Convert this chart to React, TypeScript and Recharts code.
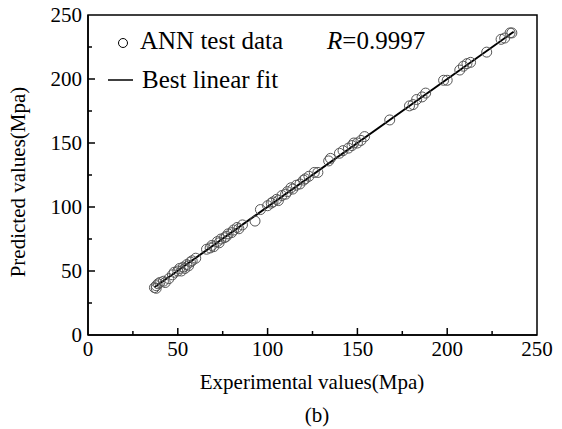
import {
  ComposedChart,
  Scatter,
  Line,
  XAxis,
  YAxis,
  ReferenceArea,
} from "recharts"

const expValues = [
  37, 38, 38, 39, 40, 42, 43, 45, 47, 48, 50, 51, 52, 53, 54, 55, 56, 57, 58, 60,
  66, 68, 69, 70, 72, 73, 74, 76, 77, 78, 80, 81, 83, 84, 86,
  93, 96, 100, 102, 103, 105, 106, 108, 110, 111, 113, 114, 116, 118, 120, 121,
  123, 126, 128, 134, 135, 140, 142, 145, 147, 148, 150, 152, 154,
  168, 179, 181, 183, 186, 188, 198, 200, 207, 209, 211, 213, 222, 230, 232, 235, 236,
]
const predValues = [
  37, 38.5, 36.5, 40, 41, 42, 41, 44, 47, 49, 50, 52, 50, 53, 52, 55, 54, 57, 58, 60,
  67, 68, 70, 69, 73, 72, 75, 76, 77, 79, 80, 82, 84, 83, 86,
  89, 98, 101, 103, 104, 106, 105, 109, 110, 112, 115, 114, 117, 118, 121, 122,
  124, 127, 127, 136, 138, 142, 144, 146, 148, 150, 150, 152, 155,
  168, 179, 180, 184, 186, 189, 199, 199, 207, 210, 212, 213, 221, 231, 232, 236, 236,
]

// best linear fit endpoints
const fitX = [37, 237]
const fitY = [37.3, 236.9]

const axisTicks = [0, 25, 50, 75, 100, 125, 150, 175, 200, 225, 250]

const points = expValues.map((x, i) => ({ x, y: predValues[i] }))
const fitLine = fitX.map((x, i) => ({ x, y: fitY[i] }))

const FONT = "Liberation Serif"

const XTick = ({ x, y, payload }: any) => {
  const v = payload.value
  const major = v % 50 === 0
  return (
    <g>
      {v !== 0 && v !== 250 && (
        <line x1={x} y1={y} x2={x} y2={y - (major ? 7 : 4)} stroke="#000" strokeWidth={1.5} />
      )}
      {major && (
        <text x={x} y={y + 21} textAnchor="middle" style={{ fontSize: 21, fontFamily: FONT }} fill="#000">
          {v}
        </text>
      )}
    </g>
  )
}

const YTick = ({ x, y, payload }: any) => {
  const v = payload.value
  const major = v % 50 === 0
  return (
    <g>
      {v !== 0 && v !== 250 && (
        <line x1={x} y1={y} x2={x + (major ? 7 : 4)} y2={y} stroke="#000" strokeWidth={1.5} />
      )}
      {major && (
        <text x={x - 6} y={y + 7} textAnchor="end" style={{ fontSize: 21, fontFamily: FONT }} fill="#000">
          {v}
        </text>
      )}
    </g>
  )
}

const Circle = ({ cx, cy }: any) => (
  <circle cx={cx} cy={cy} r={5} fill="none" stroke="#555" strokeWidth={1} />
)

const txt = { fontFamily: FONT, fontSize: 25 }

// legend drawn as an overlay so the chart keeps its full plot area
const LegendBox = () => (
  <svg
    width={562}
    height={100}
    style={{ position: "absolute", left: 0, top: 0, pointerEvents: "none" }}
  >
    <circle cx={123} cy={43} r={4.5} fill="none" stroke="#000" strokeWidth={1} />
    <text x={140} y={49} style={txt} fill="#000">
      ANN test data
    </text>
    <text x={327} y={49} style={txt} fill="#000">
      <tspan fontStyle="italic">R</tspan>=0.9997
    </text>
    <line x1={108} y1={80} x2={133} y2={80} stroke="#000" strokeWidth={1.5} />
    <text x={142} y={88} style={txt} fill="#000">
      Best linear fit
    </text>
  </svg>
)

export default function App() {
  return (
    <div style={{ position: "absolute", left: 0, top: 0, width: 562, height: 429, background: "#fff" }}>
      <ComposedChart
        width={562}
        height={429}
        margin={{ top: 15, right: 25, left: 0, bottom: 0 }}
        style={{ fontFamily: FONT }}
      >
        <XAxis
          type="number"
          dataKey="x"
          domain={[0, 250]}
          ticks={axisTicks}
          interval={0}
          height={94}
          tickSize={0}
          tickMargin={0}
          stroke="#000"
          strokeWidth={1.5}
          tick={<XTick />}
          label={{
            content: () => (
              <g>
                <text x={312} y={389} textAnchor="middle" style={{ fontSize: 21, fontFamily: FONT }} fill="#000">
                  Experimental values(Mpa)
                </text>
                <text x={317} y={422} textAnchor="middle" style={{ fontSize: 21, fontFamily: FONT }} fill="#000">
                  (b)
                </text>
              </g>
            ),
          }}
        />
        <YAxis
          type="number"
          dataKey="y"
          domain={[0, 250]}
          ticks={axisTicks}
          interval={0}
          width={88}
          tickSize={0}
          tickMargin={0}
          stroke="#000"
          strokeWidth={1.5}
          tick={<YTick />}
          label={{
            content: () => (
              <text
                x={25}
                y={182}
                transform="rotate(-90 25 182)"
                textAnchor="middle"
                style={{ fontSize: 21, fontFamily: FONT }}
                fill="#000"
              >
                Predicted values(Mpa)
              </text>
            ),
          }}
        />
        <ReferenceArea
          x1={0}
          x2={250}
          y1={0}
          y2={250}
          fill="none"
          stroke="#000"
          strokeWidth={1.5}
          ifOverflow="visible"
        />
        <Scatter data={points} dataKey="y" shape={<Circle />} isAnimationActive={false} />
        <Line
          data={fitLine}
          dataKey="y"
          type="linear"
          stroke="#000"
          strokeWidth={2}
          dot={false}
          activeDot={false}
          isAnimationActive={false}
        />
      </ComposedChart>
      <LegendBox />
    </div>
  )
}
